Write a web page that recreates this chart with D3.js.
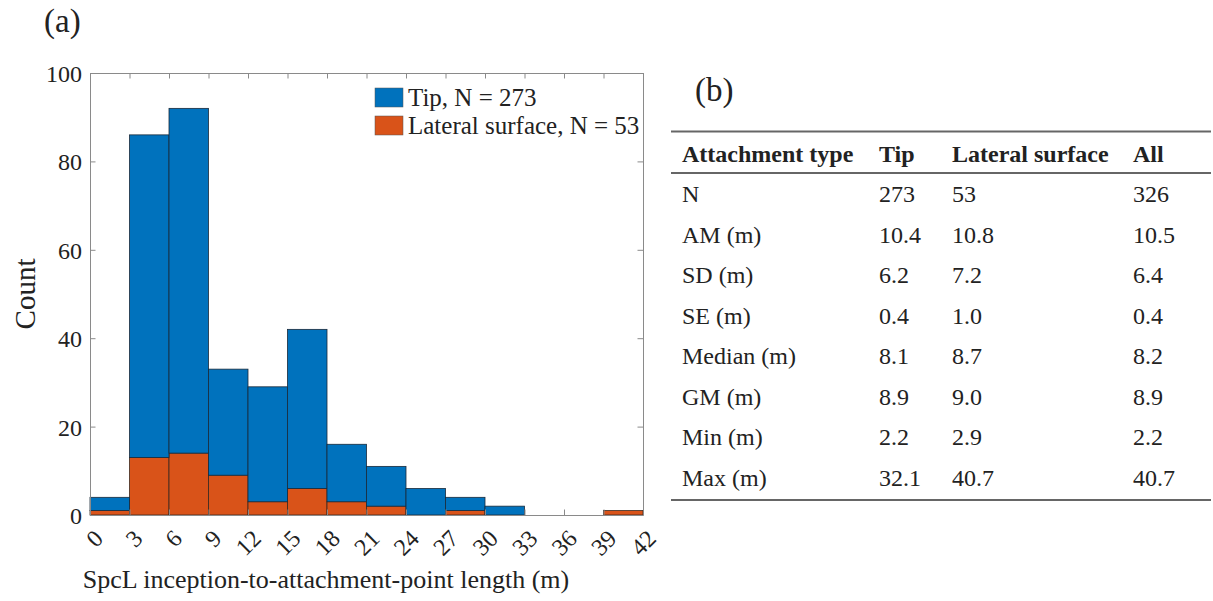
<!DOCTYPE html>
<html>
<head>
<meta charset="utf-8">
<script src="https://cdn.jsdelivr.net/npm/d3@7"></script>
<style>
  html, body { margin: 0; padding: 0; background: #fff; }
  svg { display: block; font-family: "Liberation Serif", "Times New Roman", serif; }
</style>
</head>
<body>
<svg id="chart" width="1213" height="601"></svg>
<script>
// ---------- data ----------
const binEdges = [0, 3, 6, 9, 12, 15, 18, 21, 24, 27, 30, 33, 36, 39, 42];
const tipCounts = [3, 73, 78, 24, 26, 36, 13, 9, 6, 3, 2, 0, 0, 0];
const lateralCounts = [1, 13, 14, 9, 3, 6, 3, 2, 0, 1, 0, 0, 0, 1];
const yTicks = [0, 20, 40, 60, 80, 100];
const legendLabels = ["Tip, N = 273", "Lateral surface, N = 53"];
const xLabel = "SpcL inception-to-attachment-point length (m)";
const yLabel = "Count";

const tableHeader = ["Attachment type", "Tip", "Lateral surface", "All"];
const rowLabels = ["N", "AM (m)", "SD (m)", "SE (m)", "Median (m)", "GM (m)", "Min (m)", "Max (m)"];
const tipStats = ["273", "10.4", "6.2", "0.4", "8.1", "8.9", "2.2", "32.1"];
const lateralStats = ["53", "10.8", "7.2", "1.0", "8.7", "9.0", "2.9", "40.7"];
const allStats = ["326", "10.5", "6.4", "0.4", "8.2", "8.9", "2.2", "40.7"];

// ---------- setup ----------
const svg = d3.select("#chart");
const colTip = "#0072BD", colLat = "#D95319";
const axisCol = "#8a8a8a";

const x = d3.scaleLinear().domain([0, 42]).range([90, 643]);
const y = d3.scaleLinear().domain([0, 100]).range([515, 73]);

// bars (stacked: lateral at bottom, tip above)
const bins = tipCounts.map((t, i) => ({ x0: binEdges[i], x1: binEdges[i + 1], lat: lateralCounts[i], tip: t }));
const g = svg.append("g");
g.selectAll("rect.lat").data(bins.filter(d => d.lat > 0)).join("rect")
  .attr("class", "lat")
  .attr("x", d => x(d.x0)).attr("width", d => x(d.x1) - x(d.x0))
  .attr("y", d => y(d.lat)).attr("height", d => y(0) - y(d.lat))
  .attr("fill", colLat).attr("stroke", "#3a2a20").attr("stroke-width", 0.8);
g.selectAll("rect.tip").data(bins.filter(d => d.tip > 0)).join("rect")
  .attr("class", "tip")
  .attr("x", d => x(d.x0)).attr("width", d => x(d.x1) - x(d.x0))
  .attr("y", d => y(d.lat + d.tip)).attr("height", d => y(d.lat) - y(d.lat + d.tip))
  .attr("fill", colTip).attr("stroke", "#1a2a3a").attr("stroke-width", 0.8);

// axes
const tl = 5.5;
function styleAxis(sel) {
  sel.select(".domain").attr("stroke", axisCol);
  sel.selectAll(".tick line").attr("stroke", axisCol);
  sel.selectAll("text").attr("fill", "#222").style("font-size", "24px")
     .style("font-family", '"Liberation Serif", "Times New Roman", serif');
}
const xb = svg.append("g").attr("transform", `translate(0,${y(0)})`)
  .call(d3.axisBottom(x).tickValues(binEdges).tickSizeInner(-tl).tickSizeOuter(0).tickFormat(d3.format("d")));
styleAxis(xb);
xb.selectAll(".tick text")
  .attr("x", 0).attr("y", 0).attr("dy", 0)
  .attr("text-anchor", "end")
  .attr("transform", "translate(14,25) rotate(-45)");
const xt = svg.append("g").attr("transform", `translate(0,${y(100)})`)
  .call(d3.axisTop(x).tickValues(binEdges).tickSizeInner(-tl).tickSizeOuter(0).tickFormat(""));
styleAxis(xt);
const yl = svg.append("g").attr("transform", `translate(${x(0)},0)`)
  .call(d3.axisLeft(y).tickValues(yTicks).tickSizeInner(-tl).tickSizeOuter(0).tickPadding(8));
styleAxis(yl);
yl.selectAll(".tick text").attr("x", -8).attr("dy", "0.35em");
const yr = svg.append("g").attr("transform", `translate(${x(42)},0)`)
  .call(d3.axisRight(y).tickValues(yTicks).tickSizeInner(-tl).tickSizeOuter(0).tickFormat(""));
styleAxis(yr);

// axis labels
svg.append("text").attr("x", 326).attr("y", 588)
  .attr("text-anchor", "middle").style("font-size", "26px").attr("fill", "#222").text(xLabel);
svg.append("text").attr("transform", `translate(35,${(y(0) + y(100)) / 2}) rotate(-90)`)
  .attr("text-anchor", "middle").style("font-size", "29px").attr("fill", "#222").text(yLabel);

// panel labels
svg.append("text").attr("x", 44).attr("y", 32).style("font-size", "33px").attr("fill", "#222").text("(a)");
svg.append("text").attr("x", 695).attr("y", 101).style("font-size", "33px").attr("fill", "#222").text("(b)");

// legend
const legCols = [colTip, colLat];
const leg = svg.append("g");
legendLabels.forEach((lab, i) => {
  leg.append("rect").attr("x", 375).attr("y", 88 + i * 28).attr("width", 28).attr("height", 19)
    .attr("fill", legCols[i]).attr("stroke", "#555").attr("stroke-width", 0.5);
  leg.append("text").attr("x", 408).attr("y", 106 + i * 28).style("font-size", "25px")
    .attr("fill", "#222").text(lab);
});

// ---------- table ----------
const colX = d3.scaleOrdinal().domain(tableHeader).range([682, 879, 952, 1133]);
const rowY = d3.scaleLinear().domain([0, 7]).range([202, 486]);
const tbl = svg.append("g").style("font-size", "24px").attr("fill", "#222");
tbl.selectAll("text.hdr").data(tableHeader).join("text").attr("class", "hdr")
  .attr("x", d => colX(d)).attr("y", 162).style("font-weight", "bold").text(d => d);
const rows = rowLabels.map((r, i) => [r, tipStats[i], lateralStats[i], allStats[i]]);
rows.forEach((row, i) => {
  tbl.selectAll(null).data(row).join("text")
    .attr("x", (d, j) => colX(tableHeader[j])).attr("y", rowY(i)).text(d => d);
});
[131.5, 173, 500].forEach(yy => {
  svg.append("line").attr("x1", 671).attr("x2", 1211).attr("y1", yy).attr("y2", yy)
    .attr("stroke", "#666").attr("stroke-width", 2);
});
</script>
</body>
</html>
